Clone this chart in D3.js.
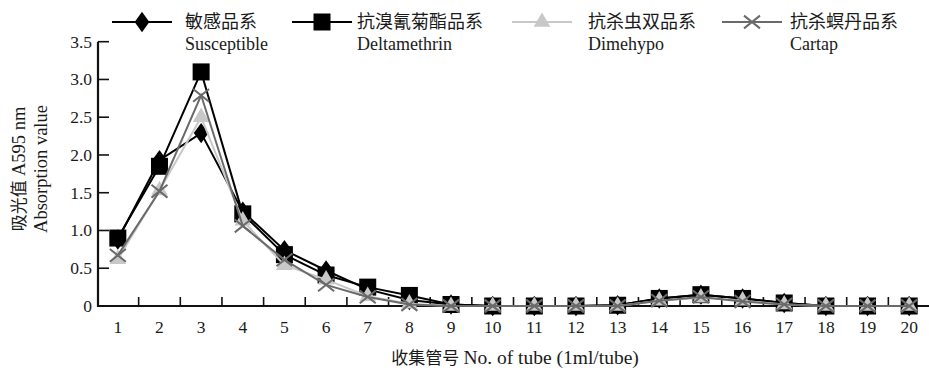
<!DOCTYPE html>
<html><head><meta charset="utf-8">
<script src="https://cdn.jsdelivr.net/npm/d3@7"></script>
<style>
body{margin:0;background:#fff;}
text{font-family:"Liberation Serif","Noto Sans CJK SC",serif;fill:#1a1a1a;}
</style></head>
<body><svg id="c" width="929" height="374"></svg>
<script>
const tubes = d3.range(1, 21).map(String);
const susceptible  = [0.88,1.93,2.29,1.25,0.74,0.47,0.22,0.08,0.02,0,0,0,0.01,0.10,0.15,0.10,0.04,0,0,0];
const deltamethrin = [0.90,1.85,3.10,1.22,0.68,0.41,0.25,0.14,0.02,0,0,0,0.01,0.10,0.15,0.10,0.04,0,0,0];
const dimehypo     = [0.62,1.53,2.50,1.13,0.54,0.35,0.13,0.03,0,0,0,0,0,0.07,0.11,0.07,0.02,0,0,0];
const cartap       = [0.67,1.52,2.79,1.06,0.61,0.28,0.12,0.02,0,0,0,0,0,0.07,0.12,0.06,0.02,0,0,0];
const yTicks = [0,0.5,1.0,1.5,2.0,2.5,3.0,3.5];
const seriesNames = [["敏感品系","Susceptible"],["抗溴氰菊酯品系","Deltamethrin"],["抗杀虫双品系","Dimehypo"],["抗杀螟丹品系","Cartap"]];
const seriesData = [susceptible, deltamethrin, dimehypo, cartap];

const styles = [
  {color:"#000", marker:"diamond", fill:"#000"},
  {color:"#000", marker:"square", fill:"#000"},
  {color:"#c8c8c8", marker:"triangle", fill:"#c8c8c8"},
  {color:"#6a6a6a", marker:"cross", fill:"none"}
];
const legendX = [112, 292, 512, 722];
const legendTextX = [185, 357, 588, 790];

const svg = d3.select("#c");
const x = d3.scaleBand().domain(tubes).range([97, 930]);
const y = d3.scaleLinear().domain([0, 3.5]).range([306, 41.7]);
const cx = d => x(d) + x.bandwidth()/2;

function drawMarker(g, type, px, py, st){
  if(type==="diamond"){
    g.append("path").attr("d", d3.symbol(d3.symbolDiamond, 120)()).attr("transform",`translate(${px},${py}) scale(1.25,1)`).attr("fill", st.fill);
  } else if(type==="square"){
    g.append("rect").attr("x",px-8.5).attr("y",py-8.5).attr("width",17).attr("height",17).attr("fill",st.fill);
  } else if(type==="triangle"){
    g.append("path").attr("d", d3.symbol(d3.symbolTriangle, 120)()).attr("transform",`translate(${px},${py})`).attr("fill", st.fill);
  } else {
    const s = 8;
    g.append("path").attr("d",`M${px-s},${py-s*0.8}L${px+s},${py+s*0.8}M${px-s},${py+s*0.8}L${px+s},${py-s*0.8}`).attr("stroke",st.color).attr("stroke-width",2).attr("fill","none");
  }
}

// axes
const gx = svg.append("g").attr("transform","translate(0,306)");
gx.append("line").attr("x1",97).attr("x2",929).attr("stroke","#111").attr("stroke-width",2.2);
const bounds = tubes.slice(1).map(t => x(t));
gx.selectAll(".xt").data(bounds).join("line").attr("x1",d=>d).attr("x2",d=>d).attr("y1",0).attr("y2",-9).attr("stroke","#111").attr("stroke-width",1.6);
gx.selectAll(".xl").data(tubes).join("text").attr("x",d=>cx(d)).attr("y",27).attr("text-anchor","middle").attr("font-size",17.5).text(d=>d);

const gy = svg.append("g");
gy.append("line").attr("x1",98).attr("x2",98).attr("y1",y(3.5)).attr("y2",307).attr("stroke","#111").attr("stroke-width",2.2);
gy.selectAll(".yt").data(yTicks.filter(d=>d>0)).join("line").attr("x1",98).attr("x2",109).attr("y1",d=>y(d)).attr("y2",d=>y(d)).attr("stroke","#111").attr("stroke-width",1.6);
gy.selectAll(".yl").data(yTicks).join("text").attr("x",92).attr("y",d=>y(d)+6).attr("text-anchor","end").attr("font-size",17.5).text(d=>d===0?"0":d.toFixed(1));

// axis titles
const xt = svg.append("text").attr("x",515).attr("y",364).attr("text-anchor","middle");
xt.append("tspan").attr("font-size",17).text("收集管号  ");
xt.append("tspan").attr("font-size",19.5).text("No. of tube (1ml/tube)");
const yt1 = svg.append("text").attr("transform","translate(25,169) rotate(-90)").attr("text-anchor","middle");
yt1.append("tspan").attr("font-size",17).text("吸光值 ");
yt1.append("tspan").attr("font-size",18.5).text("A595 nm");
svg.append("text").attr("transform","translate(47,169) rotate(-90)").attr("text-anchor","middle").attr("font-size",18.5).text("Absorption value");

// series
const line = d3.line().x((d,i)=>cx(tubes[i])).y(d=>y(d));
seriesData.forEach((data, si) => {
  const st = styles[si];
  const g = svg.append("g");
  g.append("path").datum(data).attr("d", line).attr("fill","none").attr("stroke", st.color).attr("stroke-width", 2);
  data.forEach((v,i) => drawMarker(g, st.marker, cx(tubes[i]), y(v), st));
});

// legend
seriesNames.forEach((nm, si) => {
  const st = styles[si];
  const g = svg.append("g");
  const lx = legendX[si];
  g.append("line").attr("x1",lx).attr("x2",lx+60).attr("y1",22).attr("y2",22).attr("stroke",st.color).attr("stroke-width",2);
  drawMarker(g, st.marker, lx+30, 22, st);
  g.append("text").attr("x",legendTextX[si]).attr("y",28).attr("font-size",18).text(nm[0]);
  g.append("text").attr("x",legendTextX[si]).attr("y",50).attr("font-size",18).text(nm[1]);
});
</script></body></html>
